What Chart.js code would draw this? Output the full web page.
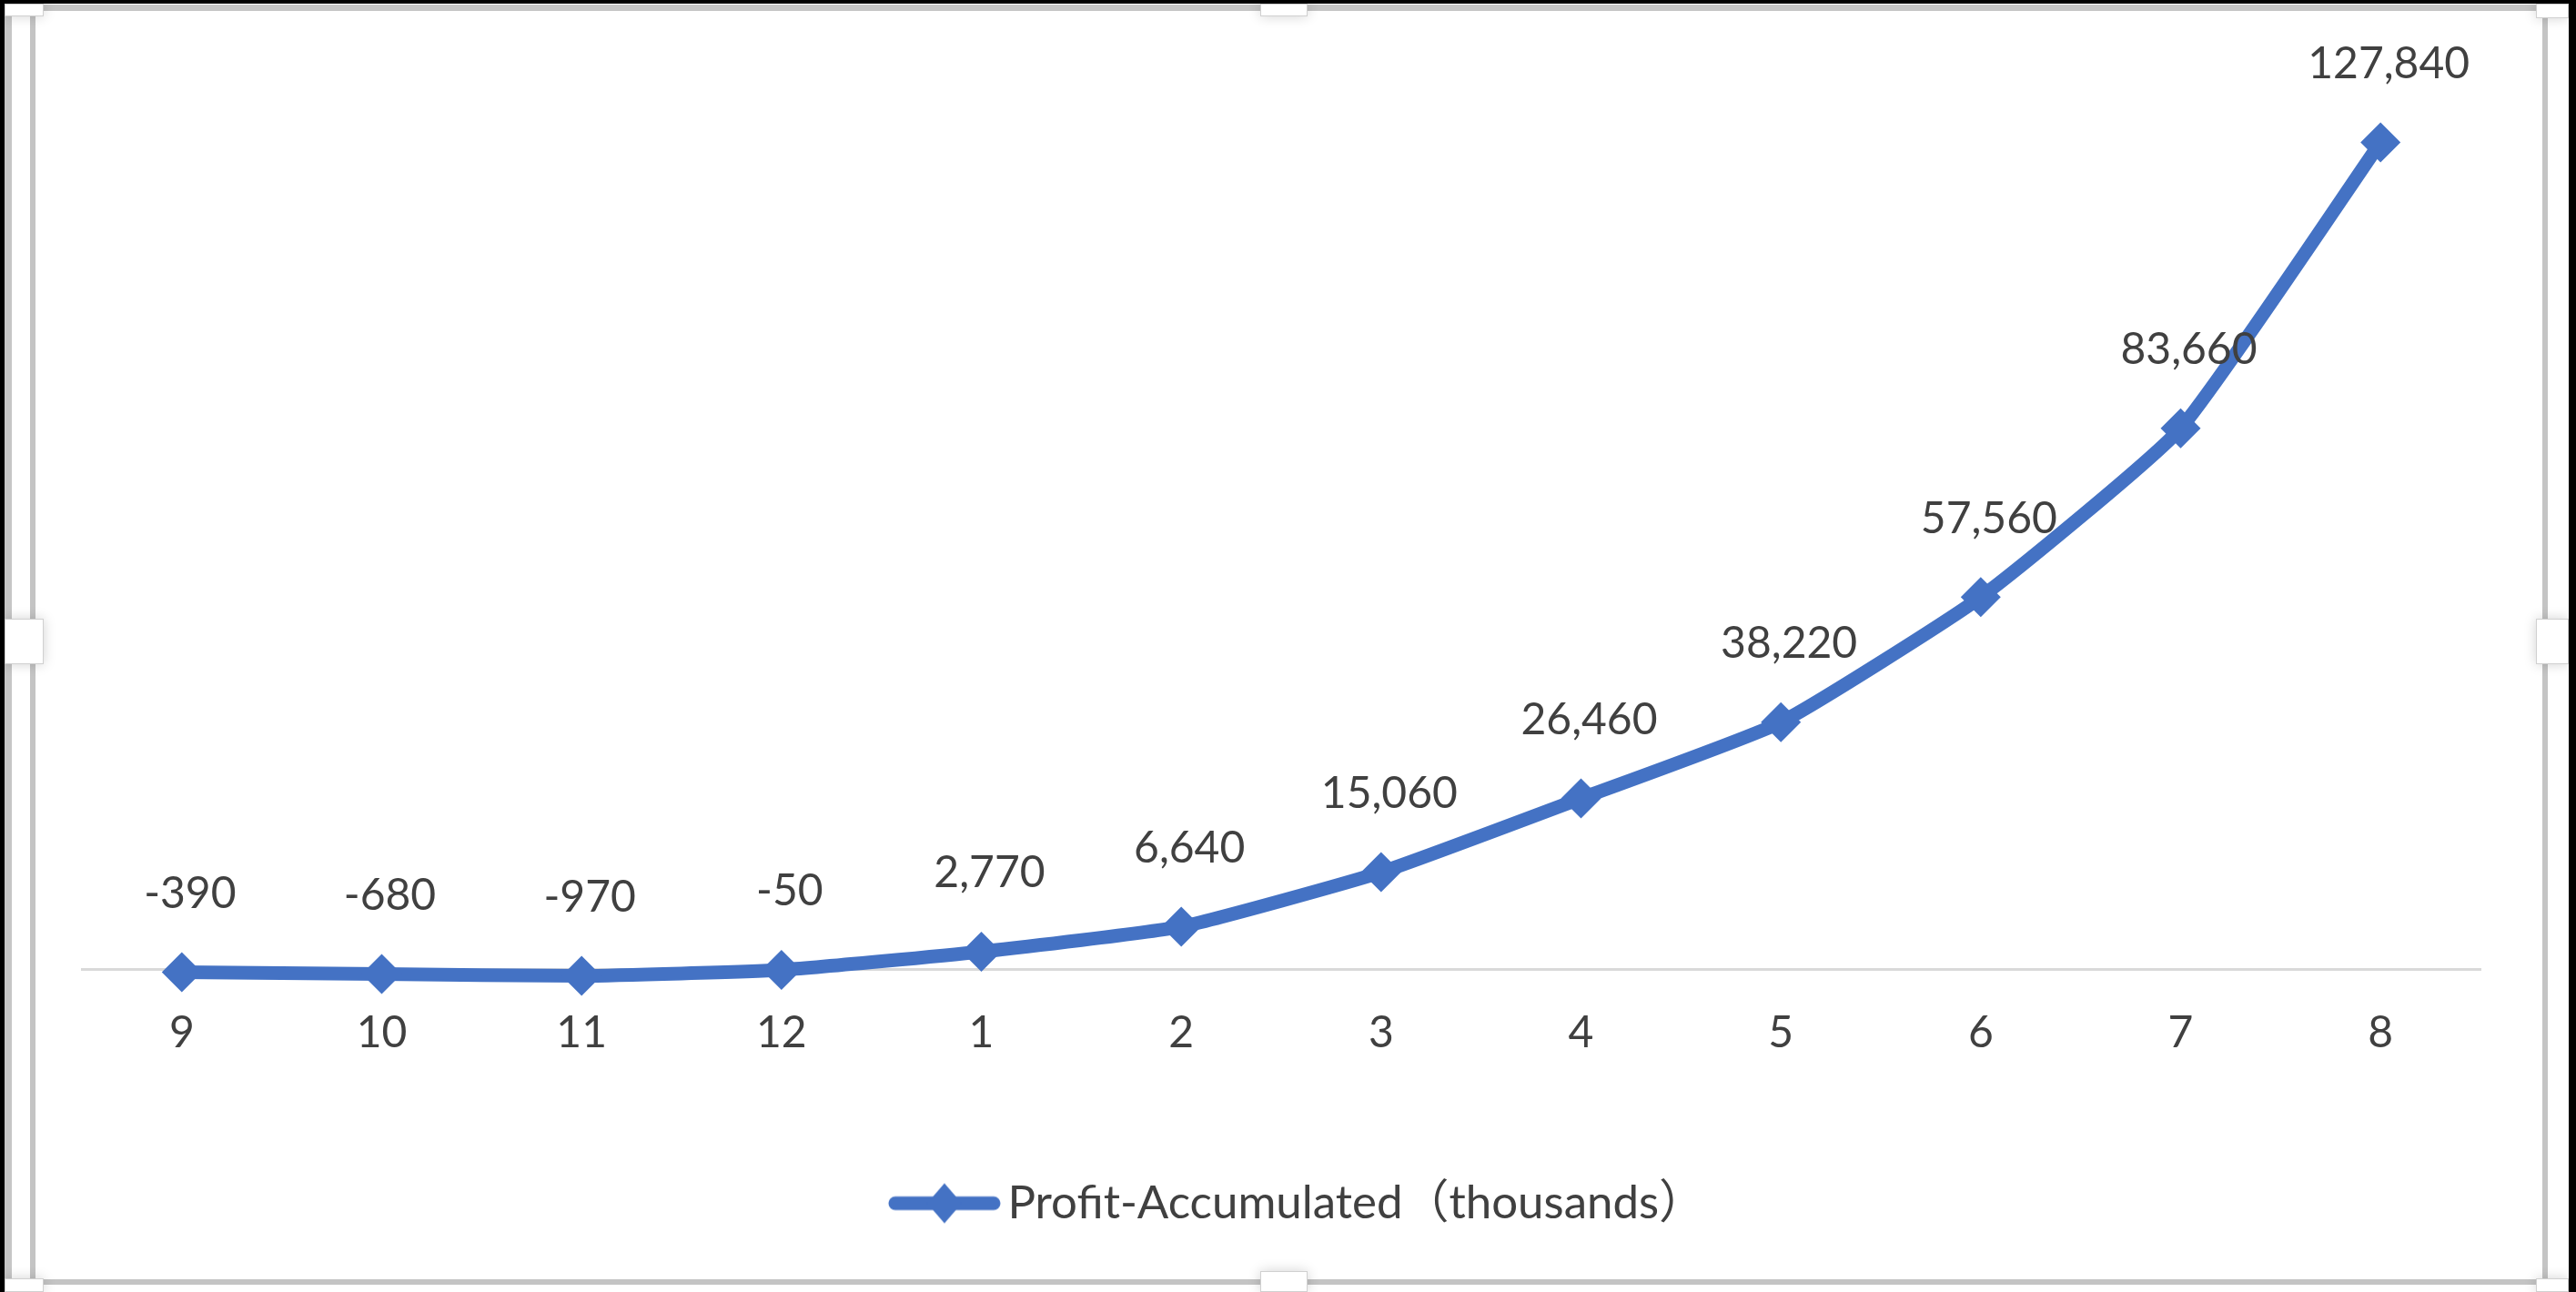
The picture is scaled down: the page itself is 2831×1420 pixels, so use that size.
<!DOCTYPE html>
<html>
<head>
<meta charset="utf-8">
<script src="https://cdn.jsdelivr.net/npm/chart.js@4.4.1/dist/chart.umd.min.js"></script>
<style>
  html, body { margin: 0; padding: 0; }
  body { width: 2831px; height: 1420px; background: #000; position: relative; overflow: hidden; }
  .sheet { position: absolute; left: 5px; top: 4px; width: 2818px; height: 1416px; background: #fff; }
  .edge { position: absolute; left: 5px; top: 4px; width: 8px; height: 1416px; background: #c6c6c6; }
  .frame { position: absolute; left: 33px; top: 5px; width: 2767px; height: 1407px;
           box-sizing: border-box; border: 6px solid #c4c4c4; border-top-width: 7px; }
  .handle { position: absolute; background: #fff; box-shadow: 0 0 14px rgba(0,0,0,0.18); border: 1px solid #d0d0d0; box-sizing: border-box; }
  #chart { position: absolute; left: 39px; top: 12px; }
</style>
</head>
<body>
<div class="sheet"></div>
<div class="edge"></div>
<div class="frame"></div>
<canvas id="chart" width="2756" height="1393"></canvas>
<div class="handle" style="left:5px;top:4px;width:43px;height:14px"></div>
<div class="handle" style="left:1385px;top:4px;width:52px;height:14px"></div>
<div class="handle" style="left:2787px;top:4px;width:36px;height:16px"></div>
<div class="handle" style="left:5px;top:680px;width:43px;height:50px"></div>
<div class="handle" style="left:2787px;top:680px;width:36px;height:50px"></div>
<div class="handle" style="left:5px;top:1405px;width:43px;height:15px"></div>
<div class="handle" style="left:1385px;top:1397px;width:52px;height:23px"></div>
<div class="handle" style="left:2787px;top:1405px;width:36px;height:15px"></div>
<script>
var months = ['9', '10', '11', '12', '1', '2', '3', '4', '5', '6', '7', '8'];
var profit = [-390, -680, -970, -50, 2770, 6640, 15060, 26460, 38220, 57560, 83660, 127840];
var seriesName = 'Profit-Accumulated（thousands）';

var blue = '#4472C4';
var textColor = '#404040';
var fontFamily = 'Lato, "Noto Sans CJK SC", sans-serif';
var fontSize = 48;
var legendSize = 51;

// legend swatch: thick line with a diamond in the middle,
// drawn on the right part of a wider canvas so it sits closer to the text
function legendMarker() {
    var pad = 52;
    var c = document.createElement('canvas');
    c.width = 124 + pad;
    c.height = 50;
    var g = c.getContext('2d');
    g.translate(pad, 0);
    g.strokeStyle = blue;
    g.lineWidth = 15;
    g.lineCap = 'round';
    g.beginPath();
    g.moveTo(8, 25);
    g.lineTo(116, 25);
    g.stroke();
    g.fillStyle = blue;
    g.beginPath();
    g.moveTo(62, 3);
    g.lineTo(81, 25);
    g.lineTo(62, 47);
    g.lineTo(43, 25);
    g.closePath();
    g.fill();
    return c;
}

// value above every point
var valueLabels = {
    id: 'valueLabels',
    afterDatasetsDraw: function(chart) {
        var ctx = chart.ctx;
        var meta = chart.getDatasetMeta(0);
        ctx.save();
        ctx.font = fontSize + 'px ' + fontFamily;
        ctx.fillStyle = textColor;
        ctx.textAlign = 'center';
        ctx.textBaseline = 'middle';
        meta.data.forEach(function(pt, i) {
            ctx.fillText(profit[i].toLocaleString('en-US'), pt.x + 9, pt.y - 86);
        });
        ctx.restore();
    }
};

new Chart(document.getElementById('chart'), {
    type: 'line',
    data: {
        labels: months,
        datasets: [{
            label: seriesName,
            data: profit,
            borderColor: blue,
            backgroundColor: blue,
            borderWidth: 15,
            tension: 0.15,
            pointStyle: 'rectRot',
            pointRadius: 22,
            pointBorderWidth: 0,
            pointBackgroundColor: blue
        }]
    },
    options: {
        responsive: false,
        animation: false,
        layout: { padding: { left: 51, right: 69, top: 58, bottom: 47 } },
        scales: {
            x: {
                position: { y: 0 },
                offset: true,
                grid: { color: 'rgba(0,0,0,0)', drawTicks: false },
                border: { display: true, color: '#D9D9D9', width: 3 },
                ticks: {
                    color: textColor,
                    padding: 41,
                    font: { family: fontFamily, size: fontSize }
                }
            },
            y: { display: false, min: -30000, max: 140000 }
        },
        plugins: {
            legend: {
                position: 'bottom',
                labels: {
                    usePointStyle: true,
                    pointStyle: legendMarker(),
                    pointStyleWidth: 140,
                    padding: 18,
                    color: textColor,
                    font: { family: fontFamily, size: legendSize }
                }
            },
            tooltip: { enabled: false }
        }
    },
    plugins: [valueLabels]
});
</script>
</body>
</html>
